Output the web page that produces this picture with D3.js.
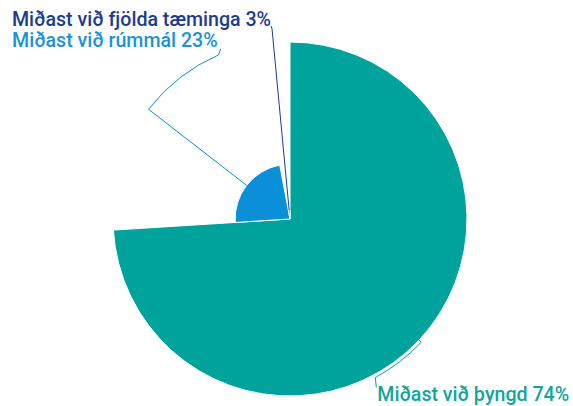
<!DOCTYPE html>
<html>
<head>
<meta charset="utf-8">
<script src="https://cdn.jsdelivr.net/npm/d3@7"></script>
<style>
  html, body { margin: 0; padding: 0; background: #fff; }
  svg text { font-family: Roboto, "Noto Sans", sans-serif; font-weight: 500; }
</style>
</head>
<body>
<script>
const w = 573;
const h = 406;

// data
const labels = ["Miðast við þyngd", "Miðast við rúmmál", "Miðast við fjölda tæminga"];
const shares = [74, 23, 3];
const zValues = [100, 31, 5];   // depth of each slice (variable radius)

const colors = ["#00a39b", "#0a8fd8", "#1d3c8f"];
const textColors = ["#12a59c", "#1b93da", "#1d3c8f"];

const cx = 290, cy = 219;
const maxR = 177;

const rScale = d3.scaleLinear().domain([0, 100]).range([0, maxR]);

const rows = labels.map((l, i) => ({ label: l, share: shares[i], z: zValues[i], i: i }));

// leader line settings: connector radius, where along it the line ends, label offset
const leader = [
  { rc: 180, endAngle: 151.7, dx: 2, dy: 24, anchor: "start", tx: 1, ty: 10 },
  { rc: 179, endAngle: 336.5, dx: -1, dy: -8, anchor: "end", tx: 2, ty: -6 },
  { rc: 191, endAngle: null, dx: -1, dy: -3, anchor: "end", tx: -1, ty: -3 }
];

const svg = d3.select("body")
  .append("svg")
  .attr("width", w)
  .attr("height", h);

const pie = d3.pie().sort(null).value(d => d.share);
const arcs = pie(rows);

const g = svg.append("g").attr("transform", `translate(${cx},${cy})`);

const arcGen = d3.arc()
  .innerRadius(0)
  .outerRadius(d => rScale(d.data.z));

g.selectAll("path.slice")
  .data(arcs)
  .enter()
  .append("path")
  .attr("class", "slice")
  .attr("d", arcGen)
  .attr("fill", d => colors[d.data.i])
  .attr("stroke", "#fff")
  .attr("stroke-width", 1)
  .attr("stroke-linejoin", "round");

const rad = deg => deg * Math.PI / 180;
const polar = (a, r) => [Math.sin(a) * r, -Math.cos(a) * r];

// leader lines
arcs.forEach(d => {
  const L = leader[d.data.i];
  const mid = (d.startAngle + d.endAngle) / 2;
  const r0 = rScale(d.data.z);
  const p0 = polar(mid, r0);
  const p1 = polar(mid, L.rc);
  const path = d3.path();
  path.moveTo(p0[0], p0[1]);
  path.lineTo(p1[0], p1[1]);
  let end = p1;
  if (L.endAngle !== null) {
    const ea = rad(L.endAngle);
    // d3.path arc uses angle from +x axis
    const a0 = mid - Math.PI / 2;
    const a1 = ea - Math.PI / 2;
    path.arc(0, 0, L.rc, a0, a1, a1 < a0);
    end = polar(ea, L.rc);
  }
  path.lineTo(end[0] + L.tx, end[1] + L.ty);
  g.append("path")
    .attr("d", path.toString())
    .attr("fill", "none")
    .attr("stroke", colors[d.data.i])
    .attr("stroke-width", 1);

  g.append("text")
    .attr("x", end[0] + L.dx)
    .attr("y", end[1] + L.dy)
    .attr("text-anchor", L.anchor)
    .attr("fill", textColors[d.data.i])
    .style("font-size", "19.6px")
    .text(d.data.label + " " + d.data.share + "%");
});
</script>
</body>
</html>
